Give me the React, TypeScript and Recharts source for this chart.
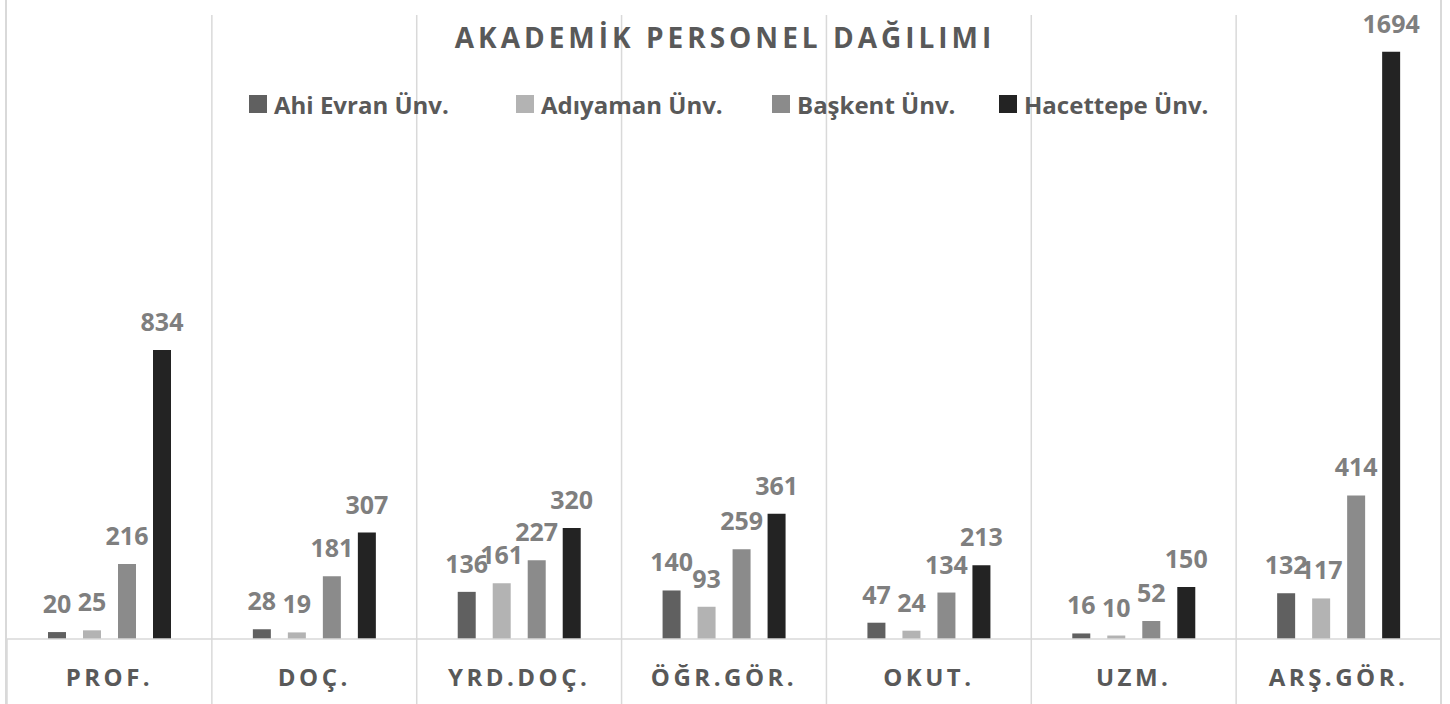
import React from 'react';
import { BarChart, Bar, XAxis, YAxis, CartesianGrid, LabelList } from 'recharts';

const categories = ['PROF.', 'DOÇ.', 'YRD.DOÇ.', 'ÖĞR.GÖR.', 'OKUT.', 'UZM.', 'ARŞ.GÖR.'];
const ahiEvran = [20, 28, 136, 140, 47, 16, 132];
const adiyaman = [25, 19, 161, 93, 24, 10, 117];
const baskent = [216, 181, 227, 259, 134, 52, 414];
const hacettepe = [834, 307, 320, 361, 213, 150, 1694];

const seriesNames = ['Ahi Evran Ünv.', 'Adıyaman Ünv.', 'Başkent Ünv.', 'Hacettepe Ünv.'];
const seriesKeys = ['ahi', 'adi', 'bas', 'hac'];
const seriesColors = ['#606060', '#b3b3b3', '#8b8b8b', '#232323'];
const legendLefts = [249, 516, 772, 999];

const data = categories.map((c, i) => ({
  name: c,
  ahi: ahiEvran[i],
  adi: adiyaman[i],
  bas: baskent[i],
  hac: hacettepe[i],
}));

const FONT = "'Open Sans', 'DejaVu Sans', sans-serif";
const GRID = '#d9d9d9';

const Tick = (props: any) => {
  const { x, y, payload } = props;
  const half = payload && payload.offset ? payload.offset : 0;
  return (
    <g>
      <line x1={x - half} x2={x - half} y1={y} y2={y + 65} stroke={GRID} strokeWidth={1.5} />
      <text
        x={x}
        y={y + 47}
        textAnchor="middle"
        fill="#595959"
        fontFamily={FONT}
        fontWeight={700}
        fontSize={24}
        letterSpacing={3.5}
      >
        {payload.value}
      </text>
    </g>
  );
};

export default function App() {
  return (
    <div style={{ position: 'absolute', left: 0, top: 0, width: 1450, height: 704, background: '#fff', overflow: 'hidden' }}>
      <div style={{ position: 'absolute', left: 5, top: 0, width: 2, height: 704, background: GRID }} />
      <div style={{ position: 'absolute', left: 1440, top: 0, width: 2, height: 704, background: GRID }} />
      <BarChart
        width={1450}
        height={704}
        data={data}
        margin={{ top: 15, right: 9, bottom: 0, left: 7 }}
        barSize={18}
        barGap={17}
      >
        <CartesianGrid
          horizontal={false}
          stroke={GRID}
          strokeWidth={1.5}
          verticalCoordinatesGenerator={(p: any) => {
            const off = p.offset;
            const arr: number[] = [];
            for (let i = 1; i < categories.length; i++) arr.push(off.left + (i * off.width) / categories.length);
            return arr;
          }}
        />
        <XAxis
          dataKey="name"
          height={65}
          tickLine={false}
          tickSize={0}
          tickMargin={0}
          axisLine={{ stroke: GRID, strokeWidth: 1.5 }}
          tick={<Tick />}
          interval={0}
        />
        <YAxis hide domain={[0, 1800]} />
        {seriesKeys.map((k, i) => (
          <Bar key={k} dataKey={k} name={seriesNames[i]} fill={seriesColors[i]} isAnimationActive={false}>
            <LabelList
              dataKey={k}
              position="top"
              offset={19}
              fill="#7f7f7f"
              style={{ fontFamily: FONT, fontWeight: 700, fontSize: 25 }}
            />
          </Bar>
        ))}
      </BarChart>
      <div
        style={{
          position: 'absolute',
          left: 0,
          width: 1450,
          top: 18,
          textAlign: 'center',
          fontFamily: FONT,
          fontWeight: 700,
          fontSize: 28,
          letterSpacing: 4,
          color: '#595959',
          lineHeight: '38px',
          whiteSpace: 'nowrap',
        }}
      >
        AKADEMİK PERSONEL DAĞILIMI
      </div>
      {seriesNames.map((n, i) => (
        <div
          key={n}
          style={{
            position: 'absolute',
            left: legendLefts[i],
            top: 86,
            height: 36,
            display: 'flex',
            alignItems: 'center',
            fontFamily: FONT,
            fontWeight: 700,
            fontSize: 24,
            color: '#595959',
            whiteSpace: 'nowrap',
          }}
        >
          <span style={{ display: 'inline-block', width: 18, height: 18, background: seriesColors[i], marginRight: 7 }} />
          {n}
        </div>
      ))}
    </div>
  );
}
